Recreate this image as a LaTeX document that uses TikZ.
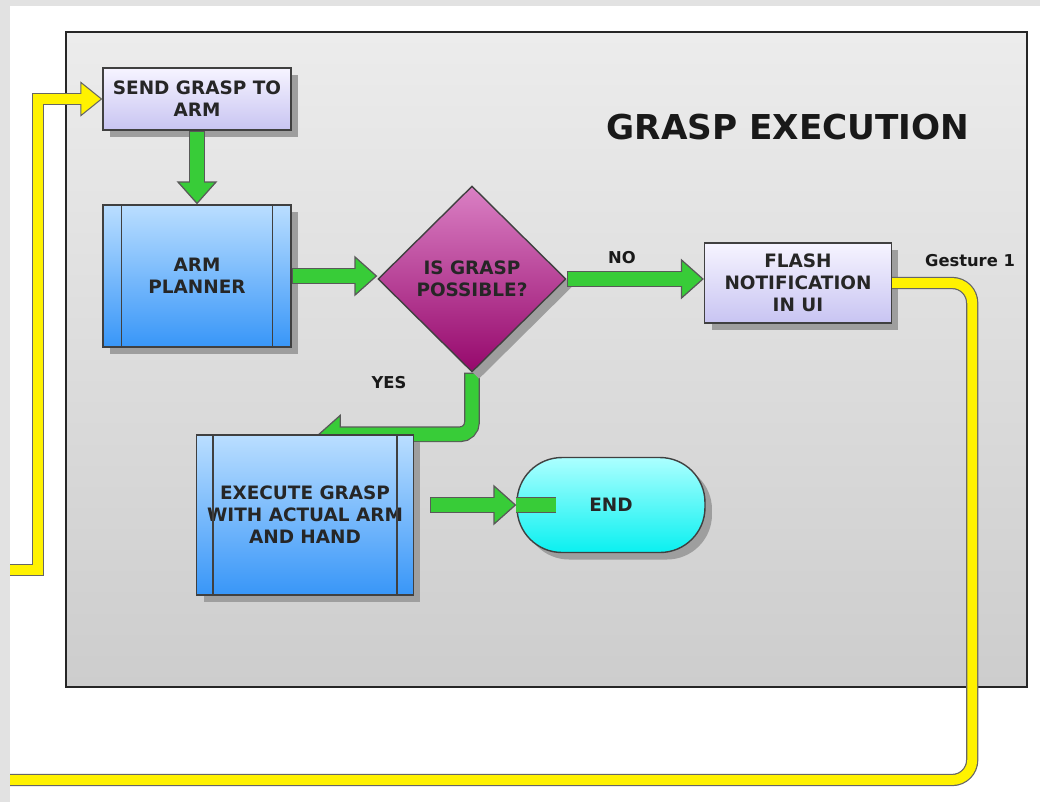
\documentclass[tikz,border=0pt]{standalone}
\usepackage{fontspec}
\setmainfont{DejaVu Sans}
\usetikzlibrary{shapes.geometric, arrows.meta, shadows, calc}

\definecolor{flowgreen}{RGB}{56,204,56}
\definecolor{lavtop}{RGB}{246,244,255}
\definecolor{lavbot}{RGB}{200,196,242}
\definecolor{bluetop}{RGB}{186,222,255}
\definecolor{bluebot}{RGB}{56,150,248}
\definecolor{magtop}{RGB}{218,128,196}
\definecolor{magbot}{RGB}{150,8,108}
\definecolor{cyantop}{RGB}{172,255,255}
\definecolor{cyanbot}{RGB}{10,240,240}
\definecolor{paneltop}{RGB}{236,236,236}
\definecolor{panelbot}{RGB}{205,205,205}
\definecolor{framegray}{RGB}{226,226,226}

\newcommand\flowfont{\fontsize{10.5}{12.5}\selectfont\bfseries}
\newcommand\tagfont{\fontsize{9.3}{11}\selectfont\bfseries}

\pgfdeclarelayer{behind}
\pgfsetlayers{behind,main}

\tikzset{
  flowbox/.style={draw=black!75, line width=0.8pt, inner sep=2pt, align=center,
    font=\flowfont, text=black!85,
    drop shadow={shadow xshift=0.14cm, shadow yshift=-0.14cm, fill=black!38, opacity=1}},
  sendbox/.style={flowbox, rectangle, top color=lavtop, bottom color=lavbot},
  procbox/.style={flowbox, rectangle, top color=bluetop, bottom color=bluebot},
  decbox/.style={flowbox, diamond, aspect=1, inner sep=0pt, top color=magtop, bottom color=magbot},
  endbox/.style={flowbox, rectangle, rounded corners=0.9cm, top color=cyantop, bottom color=cyanbot},
  sideline/.style={draw=black!75, line width=0.8pt},
  tag/.style={font=\tagfont, text=black!90},
  % thick outlined arrows
  garrow/.style={draw=black!65, line width=9pt,
    -{Triangle[length=13pt, width=23pt, line width=0.7pt, fill=flowgreen]},
    postaction={draw=flowgreen, line width=7.6pt, -, shorten >=11pt, shorten <=0.7pt}},
  gshaft/.style={draw=black!65, line width=9pt,
    postaction={draw=flowgreen, line width=7.6pt}},
  yarrow/.style={draw=black!60, line width=7pt,
    -{Triangle[length=12.5pt, width=20pt, line width=0.6pt, fill=yellow]},
    postaction={draw=yellow, line width=5.6pt, -, shorten >=10.5pt}},
  yline/.style={draw=black!60, line width=7pt,
    postaction={draw=yellow, line width=5.6pt}}
}

\begin{document}
\begin{tikzpicture}[x=0.02cm, y=-0.02cm]
\useasboundingbox (0,0) rectangle (1040,802);

\begin{pgfonlayer}{behind}
\fill[framegray] (0,0) rectangle (10,802);
\fill[framegray] (0,0) rectangle (1040,6);
\draw[black!85, line width=0.8pt, top color=paneltop, bottom color=panelbot] (66,32) rectangle (1027,687);
\end{pgfonlayer}

\node[font=\fontsize{19.5}{22}\selectfont\bfseries, text=black!90] (title) at (788,127) {GRASP EXECUTION};

% steps
\node[sendbox, minimum width=3.76cm, minimum height=1.24cm] (send) at (197,99) {SEND GRASP TO\\ARM};
\node[procbox, minimum width=3.76cm, minimum height=2.84cm] (plan) at (197,276) {ARM\\PLANNER};
\node[decbox, minimum width=3.76cm, minimum height=3.72cm] (dec) at (472,279) {IS GRASP\\POSSIBLE?};
\node[sendbox, minimum width=3.74cm, minimum height=1.6cm] (flash) at (798,283) {FLASH\\NOTIFICATION\\IN UI};
\node[procbox, minimum width=4.34cm, minimum height=3.2cm] (exec) at (305,515) {EXECUTE GRASP\\WITH ACTUAL ARM\\AND HAND};
\node[endbox, minimum width=3.76cm, minimum height=1.9cm] (finish) at (611,505) {END};

\draw[sideline] ([xshift=0.38cm]plan.north west) -- ([xshift=0.38cm]plan.south west);
\draw[sideline] ([xshift=-0.38cm]plan.north east) -- ([xshift=-0.38cm]plan.south east);
\draw[sideline] ([xshift=0.34cm]exec.north west) -- ([xshift=0.34cm]exec.south west);
\draw[sideline] ([xshift=-0.34cm]exec.north east) -- ([xshift=-0.34cm]exec.south east);

% green flow
\draw[garrow] (send.south) -- (plan.north);
\draw[garrow] (plan.east) -- (plan.east -| dec.west);
\draw[garrow] (dec.east) -- (dec.east -| flash.west);
\begin{pgfonlayer}{behind}
\draw[garrow, rounded corners=0.24cm] (dec.south) |- ($(exec.north)+(13,0)$);
\end{pgfonlayer}
\draw[gshaft] (finish.west) -- ++(40,0);
\draw[garrow] ($(exec.east |- finish.west)+(16,0)$) -- (finish.west);

\node[tag] (no) at (622,258) {NO};
\node[tag] (yes) at (389,383) {YES};
\node[tag] (gest) at (970,261) {Gesture 1};

% yellow loop back
\coordinate (gout) at (10,780);
\coordinate (gin) at (10,570);
\draw[yline, rounded corners=0.4cm] (flash.east) -- ++(80,0) |- (gout);
\draw[yarrow] (gin) -- ++(28,0) |- (send.west);
\end{tikzpicture}
\end{document}
